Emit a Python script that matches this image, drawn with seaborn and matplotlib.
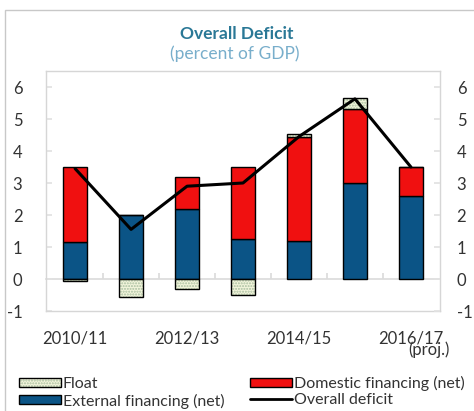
import matplotlib
matplotlib.use("Agg")
import matplotlib.pyplot as plt
from matplotlib.patches import Patch, Rectangle
from matplotlib.lines import Line2D
import numpy as np
import pandas as pd
import seaborn as sns

# ---- data (percent of GDP) ----
years = ["2010/11", "2011/12", "2012/13", "2013/14", "2014/15", "2015/16", "2016/17"]
external = [1.15, 2.00, 2.20, 1.25, 1.20, 3.00, 2.60]
domestic = [2.35, 0.00, 1.00, 2.25, 3.25, 2.30, 0.90]
float_ = [-0.05, -0.55, -0.30, -0.50, 0.08, 0.37, 0.00]
overall = [3.45, 1.55, 2.90, 3.00, 4.45, 5.63, 3.50]
shown_labels = ["2010/11", "2012/13", "2014/15", "2016/17"]
proj_note = "(proj.)"
yticks = [-1, 0, 1, 2, 3, 4, 5, 6]

sns.set_theme(style="white")
plt.rcParams["font.family"] = ["Lato", "DejaVu Sans"]
plt.rcParams["axes.unicode_minus"] = False

RED = "#f01010"
BLUE = "#0b5486"
CREAM = "#f3f5dc"
HATCH = "#a9bfa0"
TXT = "#333333"

df = pd.DataFrame({"year": years, "external": external, "domestic": domestic,
                   "float": float_, "overall": overall})
df["ext_top"] = df["external"] + df["domestic"]
df["float_bottom"] = np.where(df["float"] >= 0, df["ext_top"], df["float"])
df["float_abs"] = df["float"].abs()

fig = plt.figure(figsize=(4.74, 4.11), dpi=100)
ax = fig.add_axes([46 / 474, 1 - 311 / 411, 394 / 474, 240 / 411])

W = 0.43
sns.barplot(data=df, x="year", y="external", color=BLUE, width=W, ax=ax,
            edgecolor="black", linewidth=1, saturation=1)
sns.barplot(data=df, x="year", y="domestic", bottom=df["external"], color=RED, width=W,
            ax=ax, edgecolor="black", linewidth=1, saturation=1)
# float: hatched fill then black outline
sns.barplot(data=df, x="year", y="float_abs", bottom=df["float_bottom"], color=CREAM,
            width=W, ax=ax, edgecolor=HATCH, linewidth=0, hatch="......", saturation=1)
sns.barplot(data=df, x="year", y="float_abs", bottom=df["float_bottom"], width=W, ax=ax,
            fill=False, color="black", linewidth=1, saturation=1)
sns.lineplot(x=np.arange(len(years)), y=df["overall"], color="black", lw=2.2, ax=ax)

ax.set_xlim(-0.52, 6.52)
ax.set_ylim(-1, 6.5)
ax.set_xlabel("")
ax.set_ylabel("")
ax.set_xticks([years.index(l) for l in shown_labels])
ax.set_xticklabels(shown_labels)
ax.tick_params(axis="x", length=0, pad=14, labelsize=12, labelcolor=TXT)
ax.set_yticks(yticks)
ax.tick_params(axis="y", direction="in", length=4, color="#e2e2e2", pad=17,
               labelsize=12, labelcolor=TXT)
for s in ax.spines.values():
    s.set_color("#d6d6d6")
    s.set_linewidth(1)

ax2 = ax.twinx()
ax2.set_ylim(ax.get_ylim())
ax2.set_yticks(yticks)
ax2.tick_params(axis="y", direction="in", length=4, color="#e2e2e2", pad=12,
                labelsize=12, labelcolor=TXT)
for s in ax2.spines.values():
    s.set_visible(False)

# zero line with small category separators
sec = ax.secondary_xaxis((0 - (-1)) / 7.5)
sec.set_xticks(np.arange(len(years) - 1) + 0.5)
sec.tick_params(axis="x", direction="in", length=4, color="#dcdcdc", labelbottom=False,
                labeltop=False)
sec.spines["bottom"].set_color("#dcdcdc")
sec.spines["top"].set_visible(False)

ax.text(6.32, -2.22, proj_note, transform=ax.transData, ha="center", va="center",
        fontsize=12, color=TXT, clip_on=False)

# titles
fig.text(237 / 474, 1 - 34 / 411, "Overall Deficit", ha="center", va="center",
         fontsize=12.5, fontweight="bold", color="#2a7896")
fig.text(235 / 474, 1 - 54 / 411, "(percent of GDP)", ha="center", va="center",
         fontsize=12.5, color="#78aecb")

# figure border
fig.patches.append(Rectangle((5 / 474, -0.1), 1.2, 1 - 10 / 411 + 0.1,
                             transform=fig.transFigure, fill=False,
                             edgecolor="#c8c8c8", linewidth=1))

handles = [
    (Patch(facecolor=CREAM, edgecolor=HATCH, hatch="......", linewidth=0),
     Patch(fill=False, edgecolor="black", linewidth=1)),
    Patch(facecolor=BLUE, edgecolor="black", linewidth=1),
    Patch(facecolor=RED, edgecolor="black", linewidth=1),
    Line2D([], [], color="black", lw=2),
]
labels = ["Float", "External financing (net)", "Domestic financing (net)", "Overall deficit"]
fig.legend(handles, labels, ncol=2, loc="upper left",
           bbox_to_anchor=(11 / 474, 1 - 368 / 411), frameon=False, fontsize=11.5,
           borderpad=0, handlelength=2.6, handleheight=0.5, handletextpad=0.15,
           labelspacing=0.15, columnspacing=1.6, labelcolor=TXT)

fig.savefig("out.png", dpi=100, facecolor="white")
